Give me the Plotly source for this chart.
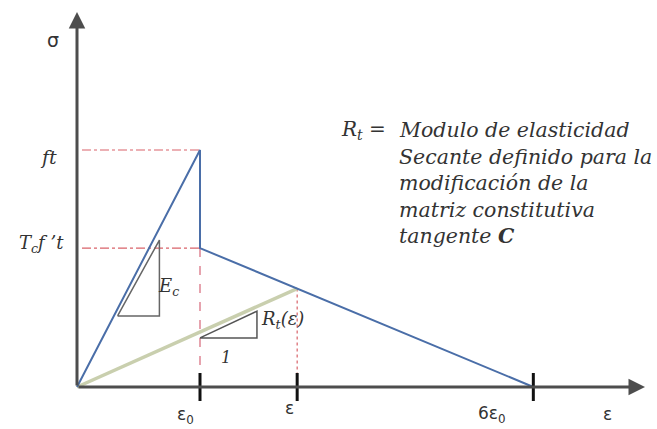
import plotly.graph_objects as go

# Schematic strain positions (in units of eps0, drawn as a sketch, not to scale)
strain_labels = ["ε<sub>0</sub>", "ε", "6ε<sub>0</sub>"]
eps0 = 1.0
eps = 1.79
eps_u = 3.71

# Stress levels (normalised by ft)
ft = 1.0
tc_ft = 0.586

# Constitutive curve: elastic branch, drop, linear softening
curve_x = [0.0, eps0, eps0, eps_u]
curve_y = [0.0, ft, tc_ft, 0.0]

# Secant modulus line up to the current strain
sec_y = tc_ft * (eps_u - eps) / (eps_u - eps0)
secant_x = [0.0, eps]
secant_y = [0.0, sec_y]

# Slope triangles
ec_tri_x = [0.33, 0.67, 0.67, 0.33]
ec_tri_y = [0.30, 0.30, 0.62, 0.30]
rt_tri_x = [1.0, 1.463, 1.463, 1.0]
rt_tri_y = [0.207, 0.207, 0.32, 0.207]

W, H = 657, 429
OX, OY = 77, 387
SX, SY = 123.0, 237.0


def px(x):
    return (x - OX) / SX


def py(y):
    return (OY - y) / SY


fig = go.Figure()

guide = dict(color="#d9636a", width=1.2)
fig.add_trace(go.Scatter(x=[px(82), eps0], y=[ft, ft], mode="lines",
                         line=dict(guide, dash="dashdot")))
fig.add_trace(go.Scatter(x=[px(82), eps0], y=[tc_ft, tc_ft], mode="lines",
                         line=dict(guide, dash="dashdot")))
fig.add_trace(go.Scatter(x=[eps0, eps0], y=[tc_ft, 0], mode="lines",
                         line=dict(color="#e6a3ae", width=2, dash="dash")))
fig.add_trace(go.Scatter(x=[eps, eps], y=[sec_y, 0], mode="lines",
                         line=dict(color="#d9636a", width=1.2, dash="dot")))

fig.add_trace(go.Scatter(x=secant_x, y=secant_y, mode="lines",
                         line=dict(color="#c9cfae", width=3.5)))
fig.add_trace(go.Scatter(x=curve_x, y=curve_y, mode="lines",
                         line=dict(color="#4a6ea8", width=2)))
fig.add_trace(go.Scatter(x=ec_tri_x, y=ec_tri_y, mode="lines",
                         line=dict(color="#666666", width=1.5)))
fig.add_trace(go.Scatter(x=rt_tri_x, y=rt_tri_y, mode="lines",
                         line=dict(color="#555555", width=1.5)))

# Axes with arrowheads
x_end = px(645)
y_end = py(12)
fig.add_annotation(x=x_end, y=0, ax=0, ay=0, xref="x", yref="y", axref="x", ayref="y",
                   showarrow=True, arrowhead=2, arrowsize=1.1, arrowwidth=3,
                   arrowcolor="#4d4d4d", text="")
fig.add_annotation(x=0, y=y_end, ax=0, ay=0, xref="x", yref="y", axref="x", ayref="y",
                   showarrow=True, arrowhead=2, arrowsize=1.1, arrowwidth=3,
                   arrowcolor="#4d4d4d", text="")

# Tick marks on the strain axis
tick_x = [eps0, eps, eps_u]
fig.add_trace(go.Scatter(x=tick_x, y=[0] * 3, mode="markers",
                         marker=dict(symbol="line-ns", size=20,
                                     line=dict(color="#111111", width=3))))

serif = "DejaVu Serif"
sans = "DejaVu Sans"
tcol = "#333333"

label_pos = [(185, 415), (289, 408), (492, 414)]
for (lx, ly), txt in zip(label_pos, strain_labels):
    fig.add_annotation(x=px(lx), y=py(ly), text=txt, showarrow=False,
                       font=dict(family=sans, size=17, color=tcol))
fig.add_annotation(x=px(607), y=py(414), text="ε", showarrow=False,
                   font=dict(family=sans, size=17, color=tcol))
fig.add_annotation(x=px(53), y=py(40), text="σ", showarrow=False,
                   font=dict(family=sans, size=19, color=tcol))
fig.add_annotation(x=px(48), y=py(157), text="<i>f</i><i>t</i>", showarrow=False,
                   font=dict(family=serif, size=19, color=tcol))
fig.add_annotation(x=px(41), y=py(244), text="<i>T<sub>c</sub>f ’t</i>", showarrow=False,
                   font=dict(family=serif, size=18, color=tcol))
fig.add_annotation(x=px(168), y=py(287), text="<i>E<sub>c</sub></i>", showarrow=False,
                   font=dict(family=serif, size=18, color=tcol))
fig.add_annotation(x=px(282), y=py(320), text="<i>R<sub>t</sub>(ε)</i>", showarrow=False,
                   font=dict(family=serif, size=18, color=tcol))
fig.add_annotation(x=px(226), y=py(357), text="<i>1</i>", showarrow=False,
                   font=dict(family=serif, size=16, color=tcol))

fig.add_annotation(x=px(339), y=py(130), text="<i>R<sub>t</sub></i> =", showarrow=False,
                   xanchor="left", font=dict(family=serif, size=20, color=tcol))
block = ["Modulo de elasticidad",
         "Secante definido para la",
         "modificación de la",
         "matriz constitutiva",
         "tangente <b>C</b>"]
for i, line in enumerate(block):
    fig.add_annotation(x=px(397), y=py(130 + 26.6 * i), text=f"<i>{line}</i>",
                       showarrow=False, xanchor="left",
                       font=dict(family=serif, size=20.5, color=tcol))

fig.update_layout(
    width=W, height=H, margin=dict(l=0, r=0, t=0, b=0),
    paper_bgcolor="white", plot_bgcolor="white", showlegend=False,
    xaxis=dict(range=[px(0), px(W)], visible=False, fixedrange=True),
    yaxis=dict(range=[py(H), py(0)], visible=False, fixedrange=True),
)

fig.write_html("out.html")
